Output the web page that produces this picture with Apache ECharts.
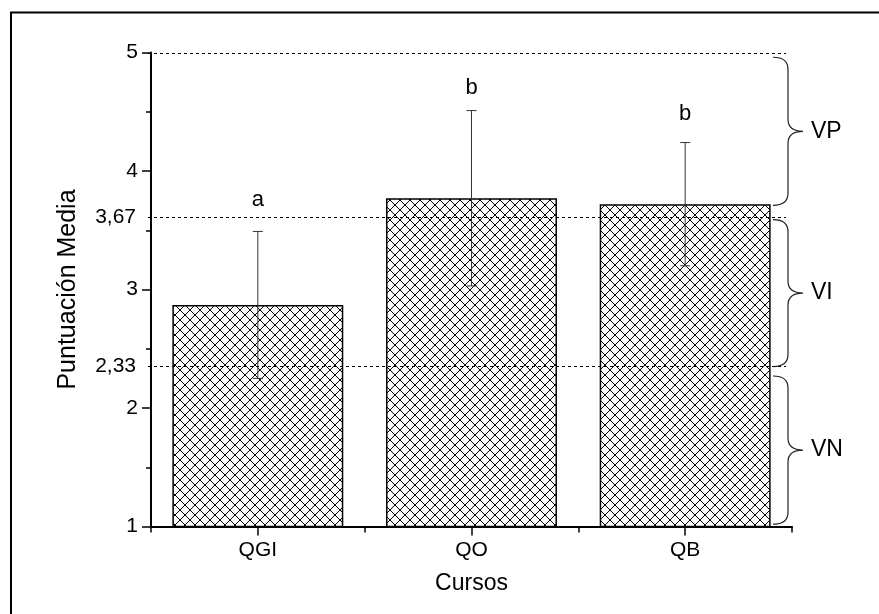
<!DOCTYPE html>
<html><head><meta charset="utf-8">
<script src="https://cdn.jsdelivr.net/npm/echarts@6/dist/echarts.min.js"></script>
<style>html,body{margin:0;padding:0;background:#fff}#c{width:879px;height:614px}</style>
</head><body><div id="c"></div>
<script>
// ---- data ----
const categories = ['QGI', 'QO', 'QB'];
const means = [2.87, 3.77, 3.72];
const errors = [0.62, 0.74, 0.52];
const groupLetters = ['a', 'b', 'b'];
const letterY = [3.76, 4.70, 4.48];
const refLineValues = [5, 3.615, 2.355];
const refLineLabels = ['', '3,67', '2,33'];
const bandLabels = ['VP', 'VI', 'VN'];
const bandStart = [4.96, 3.59, 2.27];
const bandEnd = [3.71, 2.35, 1.02];

const FONT = '"Liberation Sans", Arial, sans-serif';

// cross-hatch pattern
const pc = document.createElement('canvas');
pc.width = 10; pc.height = 10;
const g = pc.getContext('2d');
g.fillStyle = '#fff'; g.fillRect(0, 0, 10, 10);
g.strokeStyle = '#000'; g.lineWidth = 1;
for (const d of [-10, 0, 10]) {
  g.beginPath(); g.moveTo(d, 0); g.lineTo(d + 10, 10); g.stroke();
  g.beginPath(); g.moveTo(d + 10, 0); g.lineTo(d, 10); g.stroke();
}

const chart = echarts.init(document.getElementById('c'), null, {renderer: 'canvas'});

const option = {
  animation: false,
  backgroundColor: '#fff',
  textStyle: {fontFamily: FONT},
  grid: {left: 151, right: 87, top: 52.5, bottom: 87.5, containLabel: false},
  xAxis: [{
    type: 'category', data: categories, position: 'bottom',
    name: 'Cursos', nameLocation: 'middle', nameGap: 46,
    nameTextStyle: {fontSize: 23, color: '#000', fontFamily: FONT},
    axisLine: {lineStyle: {color: '#000', width: 2}},
    axisTick: {show: true, alignWithLabel: false, inside: false, length: 6, lineStyle: {color: '#000', width: 1.5}},
    axisLabel: {fontSize: 21, color: '#000', margin: 13, fontFamily: FONT},
    splitLine: {show: false}
  }, {
    type: 'category', data: categories, position: 'bottom',
    axisLine: {show: false},
    axisTick: {show: true, alignWithLabel: true, inside: false, length: 9, lineStyle: {color: '#000', width: 1.5}},
    axisLabel: {show: false},
    splitLine: {show: false}
  }],
  yAxis: {
    type: 'value', min: 1, max: 5, interval: 1,
    name: 'Puntuación Media', nameLocation: 'middle', nameGap: 70,
    nameTextStyle: {fontSize: 25, color: '#000', fontFamily: FONT},
    axisLine: {show: true, lineStyle: {color: '#000', width: 2}},
    axisTick: {show: true, inside: false, length: 9, lineStyle: {color: '#000', width: 1.5}},
    minorTick: {show: true, splitNumber: 2, length: 5, lineStyle: {color: '#000', width: 1.5}},
    axisLabel: {fontSize: 21, color: '#000', margin: 13, fontFamily: FONT},
    splitLine: {show: false}
  },
  series: [{
    type: 'bar', name: 'media', data: means, barWidth: '80%', xAxisIndex: 0,
    itemStyle: {color: {image: pc, repeat: 'repeat'}, borderColor: '#000', borderWidth: 1.5},
    z: 2
  }, {
    type: 'custom', name: 'error', xAxisIndex: 0, z: 4,
    data: categories.map((c, i) => [i, means[i] - errors[i], means[i] + errors[i]]),
    renderItem: function (params, api) {
      const lo = api.coord([api.value(0), api.value(1)]);
      const hi = api.coord([api.value(0), api.value(2)]);
      const st = {stroke: '#333', lineWidth: 1};
      const cw = 5;
      return {type: 'group', children: [
        {type: 'line', shape: {x1: hi[0], y1: hi[1], x2: lo[0], y2: lo[1]}, style: st},
        {type: 'line', shape: {x1: hi[0] - cw, y1: hi[1], x2: hi[0] + cw, y2: hi[1]}, style: st},
        {type: 'line', shape: {x1: lo[0] - cw, y1: lo[1], x2: lo[0] + cw, y2: lo[1]}, style: st}
      ]};
    }
  }, {
    type: 'custom', name: 'letters', xAxisIndex: 0, z: 5,
    data: categories.map((c, i) => [i, letterY[i]]),
    renderItem: function (params, api) {
      const p = api.coord([api.value(0), api.value(1)]);
      return {type: 'text', style: {x: p[0], y: p[1], text: groupLetters[params.dataIndex],
        fill: '#000', font: '22px ' + FONT, textAlign: 'center', textVerticalAlign: 'middle'}};
    }
  }, {
    type: 'custom', name: 'refLines', xAxisIndex: 0, z: 6,
    data: refLineValues.map((v, i) => [0, v]),
    renderItem: function (params, api) {
      const cs = params.coordSys;
      const y = Math.round(api.coord([0, api.value(1)])[1]) + 0.5;
      const ch = [{type: 'line', shape: {x1: cs.x - 3, y1: y, x2: cs.x + cs.width - 6, y2: y},
        style: {stroke: '#000', lineWidth: 1, lineDash: [3, 3]}}];
      const lab = refLineLabels[params.dataIndex];
      if (lab) ch.push({type: 'text', style: {x: cs.x - 15, y: y, text: lab, fill: '#000',
        font: '21px ' + FONT, textAlign: 'right', textVerticalAlign: 'middle'}});
      return {type: 'group', children: ch};
    }
  }, {
    type: 'custom', name: 'bands', xAxisIndex: 0, z: 6, clip: false,
    data: bandLabels.map((b, i) => [0, bandStart[i], bandEnd[i]]),
    renderItem: function (params, api) {
      const cs = params.coordSys;
      const y0 = api.coord([0, api.value(1)])[1];
      const y1 = api.coord([0, api.value(2)])[1];
      const ym = (y0 + y1) / 2;
      const sx = cs.x + cs.width - 4, ex = sx - 15, tx = sx + 15, r = 12;
      const path = `M${ex},${y0} Q${sx},${y0} ${sx},${y0 + r} L${sx},${ym - r} Q${sx},${ym} ${tx},${ym} ` +
        `Q${sx},${ym} ${sx},${ym + r} L${sx},${y1 - r} Q${sx},${y1} ${ex},${y1}`;
      return {type: 'group', children: [
        {type: 'path', shape: {pathData: path}, style: {stroke: '#222', lineWidth: 1.2, fill: null}},
        {type: 'text', style: {x: tx + 8, y: ym, text: bandLabels[params.dataIndex], fill: '#000',
          font: '23px ' + FONT, textAlign: 'left', textVerticalAlign: 'middle'}}
      ]};
    }
  }],
  graphic: [
    {type: 'line', shape: {x1: 10, y1: 12.5, x2: 879, y2: 12.5}, style: {stroke: '#000', lineWidth: 2}},
    {type: 'line', shape: {x1: 11, y1: 12, x2: 11, y2: 614}, style: {stroke: '#000', lineWidth: 2}}
  ]
};
chart.setOption(option);
</script></body></html>
